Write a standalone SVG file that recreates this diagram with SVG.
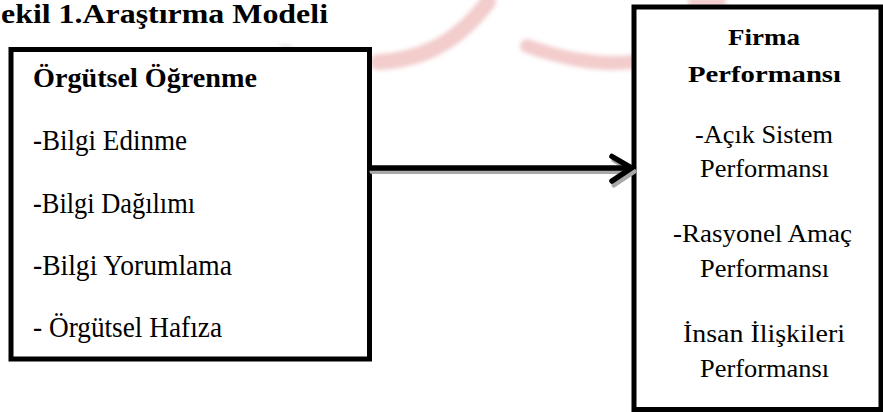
<svg xmlns="http://www.w3.org/2000/svg" width="883" height="412" viewBox="0 0 883 412">
<style>
.box{fill:#fff;stroke:#000;stroke-width:5}
.t{font-family:"Liberation Serif","Times New Roman",serif;fill:#000}
.b{font-weight:bold}
.c{text-anchor:middle}
.wm{fill:none;stroke:#e89a9a;stroke-linecap:round;opacity:0.5}
</style>
<defs>
<filter id="blur" x="-20%" y="-20%" width="140%" height="140%"><feGaussianBlur stdDeviation="2"/></filter>
</defs>
<rect width="883" height="412" fill="#fff"/>
<g id="watermark" filter="url(#blur)">
<path class="wm" d="M378 62 C420 60 455 45 488 2" stroke-width="16"/>
<path class="wm" d="M527 46 C560 58 600 66 632 62" stroke-width="14"/>
<path class="wm" d="M692 2 L722 2" stroke-width="8"/>
<path d="M280 46 L292 48" stroke="#ccc" stroke-width="4" opacity="0.5"/>
</g>
<g id="title">
<text class="t b" x="1" y="23" font-size="27" textLength="327" lengthAdjust="spacingAndGlyphs">ekil 1.Araştırma Modeli</text>
</g>
<g id="node-orgutsel-ogrenme">
<rect class="box" x="11" y="49.5" width="358.5" height="309.5"/>
<text class="t b" x="33" y="87" font-size="28" textLength="224" lengthAdjust="spacingAndGlyphs">Örgütsel Öğrenme</text>
<text class="t" x="33" y="150" font-size="30" textLength="154" lengthAdjust="spacingAndGlyphs">-Bilgi Edinme</text>
<text class="t" x="33" y="212.5" font-size="30" textLength="162" lengthAdjust="spacingAndGlyphs">-Bilgi Dağılımı</text>
<text class="t" x="33" y="274.5" font-size="30" textLength="199" lengthAdjust="spacingAndGlyphs">-Bilgi Yorumlama</text>
<text class="t" x="33" y="337" font-size="30" textLength="189" lengthAdjust="spacingAndGlyphs">- Örgütsel Hafıza</text>
</g>
<g id="node-firma-performansi">
<rect class="box" x="634" y="7" width="247" height="402.5" stroke-width="4.5"/>
<text class="t b c" x="764" y="45" font-size="24" textLength="72" lengthAdjust="spacingAndGlyphs">Firma</text>
<text class="t b c" x="764.5" y="82" font-size="24" textLength="153" lengthAdjust="spacingAndGlyphs">Performansı</text>
<text class="t c" x="764" y="143" font-size="26" textLength="138" lengthAdjust="spacingAndGlyphs">-Açık Sistem</text>
<text class="t c" x="764.5" y="177" font-size="26" textLength="129" lengthAdjust="spacingAndGlyphs">Performansı</text>
<text class="t c" x="762.5" y="242" font-size="26" textLength="179" lengthAdjust="spacingAndGlyphs">-Rasyonel Amaç</text>
<text class="t c" x="764.5" y="277" font-size="26" textLength="129" lengthAdjust="spacingAndGlyphs">Performansı</text>
<text class="t c" x="764" y="342" font-size="26" textLength="162" lengthAdjust="spacingAndGlyphs">İnsan İlişkileri</text>
<text class="t c" x="764.5" y="377" font-size="26" textLength="129" lengthAdjust="spacingAndGlyphs">Performansı</text>
</g>
<g id="connectors">
<g stroke="#a8a8a8" stroke-width="5" fill="none" stroke-linecap="round" stroke-linejoin="round">
<path d="M372 171.5 L633 171.5"/>
<path d="M614 160 L634 171.5 L614 185"/>
</g>
<g stroke="#000" stroke-width="5.5" fill="none" stroke-linecap="round" stroke-linejoin="miter">
<path d="M370 168 L630 168"/>
<path d="M612 156.5 L631.5 168 L612 181"/>
</g>
</g>
</svg>
